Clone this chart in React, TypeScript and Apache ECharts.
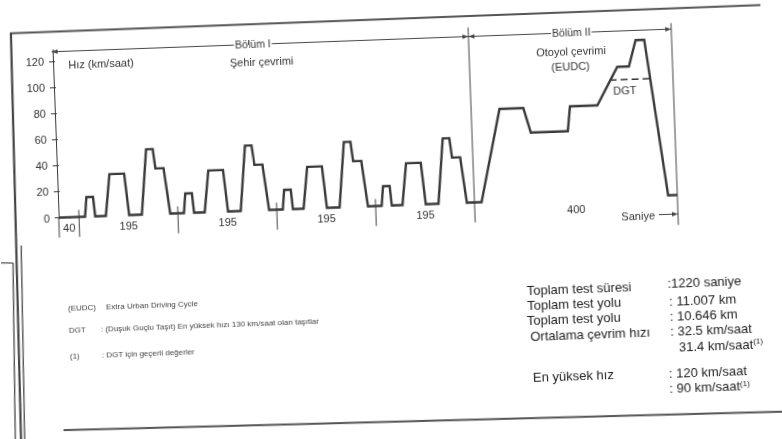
import React, { useEffect, useRef } from 'react';
import * as echarts from 'echarts';

const FONT = '"Liberation Sans", Arial, Helvetica, sans-serif';

// Idle time before the first urban cycle (s)
const START_IDLE_S = 40;
// One urban cycle: breakpoints (s from cycle start) and speed (km/h)
const URBAN_TIME = [0, 12, 16, 29, 32, 53, 63, 92, 99, 124, 137, 150, 154, 170, 180, 195];
const URBAN_SPEED = [0, 0, 15, 15, 0, 0, 32, 32, 0, 0, 50, 50, 35, 35, 0, 0];
const URBAN_CYCLE_S = 195;
const URBAN_REPEATS = 4;
// Extra urban cycle (EUDC): breakpoints (s from its start) and speed (km/h)
const EUDC_TIME = [0, 14, 56, 103, 116, 189, 195, 249, 291, 314, 329, 346, 382, 400];
const EUDC_SPEED = [0, 0, 71, 71, 52, 52, 71, 71, 100, 100, 120, 120, 0, 0];
// Speed cap for low-power vehicles (DGT)
const DGT_TIME = [1095, 1174];
const DGT_SPEED = [90, 90];

const SEGMENT_BOUNDS = [0, 40, 235, 430, 625, 820, 1220];
const SEGMENT_LABELS = ['40', '195', '195', '195', '195', '400'];
const Y_TICKS = [0, 20, 40, 60, 80, 100, 120];
const Y_MAX = 129;
const X_MAX = 1220;

const LEGEND_KEYS = ['(EUDC)', 'DGT', '(1)'];
const LEGEND_TEXTS = [
  'Extra Urban Driving Cycle',
  ': (Duşuk Guçlu Taşıt) En yüksek hızı 130 km/saat olan taşıtlar',
  ': DGT için geçerli değerler',
];

const SUMMARY_LABELS = ['Toplam test süresi', 'Toplam test yolu', 'Toplam test yolu', 'Ortalama çevrim hızı', '', 'En yüksek hız', ''];
const SUMMARY_VALUES = [':1220 saniye', ': 11.007 km', ': 10.646 km', ': 32.5 km/saat', '31.4 km/saat', ': 120 km/saat', ': 90 km/saat'];
const SUMMARY_FOOTNOTE = [false, false, false, false, true, false, true];

// Text placement for the legend and summary blocks
const LEGEND_LAYOUT = [
  { kx: 65, tx: 103, y: 296 },
  { kx: 65, tx: 97, y: 318 },
  { kx: 65, tx: 97, y: 344 },
];
const SUMMARY_LAYOUT = [
  { lx: 524, ly: 295, vx: 665, vy: 293.5 },
  { lx: 524, ly: 310, vx: 666, vy: 311 },
  { lx: 523, ly: 325, vx: 666, vy: 326.5 },
  { lx: 526, ly: 341, vx: 666, vy: 341.5 },
  { lx: 0, ly: 0, vx: 674, vy: 357 },
  { lx: 527, ly: 382, vx: 663, vy: 383 },
  { lx: 0, ly: 0, vx: 663, vy: 398.5 },
];

function buildProfile(): [number, number][] {
  const pts: [number, number][] = [[0, 0]];
  for (let k = 0; k < URBAN_REPEATS; k++) {
    const t0 = START_IDLE_S + k * URBAN_CYCLE_S;
    URBAN_TIME.forEach((t, i) => pts.push([t0 + t, URBAN_SPEED[i]]));
  }
  const e0 = START_IDLE_S + URBAN_REPEATS * URBAN_CYCLE_S;
  EUDC_TIME.forEach((t, i) => pts.push([e0 + t, EUDC_SPEED[i]]));
  return pts;
}

function buildOption(): any {
  return {
    animation: false,
    backgroundColor: '#ffffff',
    textStyle: { fontFamily: FONT },
    grid: { left: 59, top: 37.5, width: 619, height: 168, containLabel: false },
    xAxis: {
      type: 'value',
      min: 0,
      max: X_MAX,
      show: false,
    },
    yAxis: [
      {
        type: 'value',
        min: 0,
        max: Y_MAX,
        offset: 2,
        axisLine: { show: true, lineStyle: { color: '#3a3a3a', width: 1 } },
        axisTick: { show: true, length: 4, customValues: Y_TICKS, lineStyle: { color: '#3a3a3a', width: 1 } },
        axisLabel: { show: true, customValues: Y_TICKS, margin: 7, fontSize: 11, color: '#333', fontFamily: FONT },
        splitLine: { show: false },
      },
      {
        type: 'value',
        min: 0,
        max: Y_MAX,
        offset: 2,
        position: 'left',
        axisLine: { show: false },
        axisTick: { show: true, inside: true, length: 4, customValues: Y_TICKS, lineStyle: { color: '#3a3a3a', width: 1 } },
        axisLabel: { show: false },
        splitLine: { show: false },
      },
    ],
    series: [
      {
        name: 'Hız',
        type: 'line',
        data: buildProfile(),
        showSymbol: false,
        clip: false,
        silent: true,
        z: 3,
        lineStyle: { color: '#3a3a3a', width: 2.4, join: 'miter' },
      },
      {
        name: 'DGT',
        type: 'line',
        data: DGT_TIME.map((t, i) => [t, DGT_SPEED[i]]),
        showSymbol: false,
        clip: false,
        silent: true,
        z: 2,
        lineStyle: { color: '#333', width: 1.5, type: [7, 4] },
      },
    ],
  };
}

function measure(text: string, font: string): number {
  const ctx = document.createElement('canvas').getContext('2d');
  if (!ctx) return text.length * 6;
  ctx.font = font;
  return ctx.measureText(text).width;
}

function buildGraphic(chart: echarts.ECharts): any[] {
  const px = (t: number, v: number) =>
    chart.convertToPixel({ xAxisIndex: 0, yAxisIndex: 0 }, [t, v]) as number[];
  const [x0, y0] = px(0, 0);
  const xAt = (t: number) => px(t, 0)[0];
  const arrowY = px(0, 127.5)[1];
  const ink = '#444';
  const els: any[] = [];

  const seg = (x1: number, y1: number, x2: number, y2: number, w = 1, color = ink) =>
    els.push({ type: 'line', silent: true, shape: { x1, y1, x2, y2 }, style: { stroke: color, lineWidth: w } });
  const tri = (pts: number[][]) =>
    els.push({ type: 'polygon', silent: true, shape: { points: pts }, style: { fill: ink } });
  const txt = (text: string, x: number, y: number, size: number, align = 'center', color = '#333', extra: any = {}) =>
    els.push({
      type: 'text',
      silent: true,
      x,
      y,
      style: { text, fontSize: size, fontFamily: FONT, fill: color, align, verticalAlign: 'middle', ...extra },
    });

  // Segment boundaries below the speed trace
  SEGMENT_BOUNDS.forEach((t, i) => {
    const x = xAt(t);
    if (i === 0) seg(x, y0, x, y0 + 20);
    else if (i === SEGMENT_BOUNDS.length - 2) seg(x, arrowY - 9, x, y0 + 20);
    else if (i === SEGMENT_BOUNDS.length - 1) seg(x, arrowY - 6, x, y0 + 30);
    else seg(x, y0 - 7, x, y0 + 20);
  });

  // Segment durations
  SEGMENT_LABELS.forEach((label, i) => {
    const mid = (SEGMENT_BOUNDS[i] + SEGMENT_BOUNDS[i + 1]) / 2;
    txt(label, xAt(mid), y0 + 10, 11);
  });

  // Part brackets with arrowheads
  const bracket = (xa: number, xb: number, cx: number, label: string) => {
    const w = measure(label, `10.5px ${FONT}`);
    seg(xa, arrowY, cx - w / 2 - 1, arrowY);
    seg(cx + w / 2 + 1, arrowY, xb, arrowY);
    tri([[xa, arrowY], [xa + 6, arrowY - 2.2], [xa + 6, arrowY + 2.2]]);
    tri([[xb, arrowY], [xb - 6, arrowY - 2.2], [xb - 6, arrowY + 2.2]]);
    txt(label, cx, arrowY, 10.5);
  };
  const x820 = xAt(SEGMENT_BOUNDS[5]);
  const xEnd = xAt(SEGMENT_BOUNDS[6]);
  bracket(x0 - 1, x820, xAt(395), 'Bölüm I');
  bracket(x820, xEnd, xAt(1023), 'Bölüm II');

  // Time axis caption
  txt('Saniye', xEnd - 23, y0 + 19.5, 11, 'right');
  seg(xEnd - 19, y0 + 19, xEnd, y0 + 19);
  tri([[xEnd, y0 + 19], [xEnd - 6, y0 + 16.8], [xEnd - 6, y0 + 21.2]]);

  // Labels inside the plot
  const [hx, hy] = px(30, 117.4);
  txt('Hız (km/saat)', hx, hy, 11, 'left');
  const [sx, sy] = px(411, 114);
  txt('Şehir çevrimi', sx, sy, 11);
  const [ox, oy] = px(1021, 113);
  txt('Otoyol çevrimi', ox, oy, 11);
  const [ex, ey] = px(1019, 101.4);
  txt('(EUDC)', ex, ey, 11);
  const [dx, dy] = px(1124, 82);
  txt('DGT', dx, dy, 11);

  // Legend
  LEGEND_KEYS.forEach((k, i) => {
    const L = LEGEND_LAYOUT[i];
    txt(k, L.kx, L.y, 8, 'left', '#444');
    txt(LEGEND_TEXTS[i], L.tx, L.y, 8, 'left', '#444');
  });

  // Summary block
  SUMMARY_VALUES.forEach((v, i) => {
    const L = SUMMARY_LAYOUT[i];
    if (SUMMARY_LABELS[i]) txt(SUMMARY_LABELS[i], L.lx, L.ly, 13, 'left', '#222');
    if (SUMMARY_FOOTNOTE[i]) {
      txt(v + '{s|(1)}', L.vx, L.vy, 13, 'left', '#222', {
        rich: { s: { fontSize: 8, fontFamily: FONT, fill: '#222', verticalAlign: 'top' } },
      });
    } else {
      txt(v, L.vx, L.vy, 13, 'left', '#222');
    }
  });

  // Page frame
  seg(17, 19.5, 768, 18.7, 2, '#555');
  seg(18, 19, 13, 445, 2.2, '#444');
  seg(20.5, 232, 16.5, 445, 1.4, '#555');
  seg(56, 418, 790, 426, 2, '#555');
  // Neighbouring box on the page edge
  seg(-2, 248.6, 11.7, 249.1, 1.4, '#555');
  seg(11.7, 249.1, 7, 445, 1.4, '#555');

  return els;
}

export default function App() {
  const ref = useRef<HTMLDivElement>(null);
  useEffect(() => {
    const el = ref.current;
    if (!el) return;
    const chart = echarts.init(el, null, { renderer: 'svg' });
    chart.setOption(buildOption());
    chart.setOption({ graphic: { elements: buildGraphic(chart) } });
    return () => chart.dispose();
  }, []);
  return (
    <div
      ref={ref}
      style={{
        position: 'fixed',
        left: 0,
        top: 0,
        width: 782,
        height: 439,
        background: '#ffffff',
        transform: 'rotate(-2.1deg)',
        transformOrigin: '391px 219.5px',
      }}
    />
  );
}
